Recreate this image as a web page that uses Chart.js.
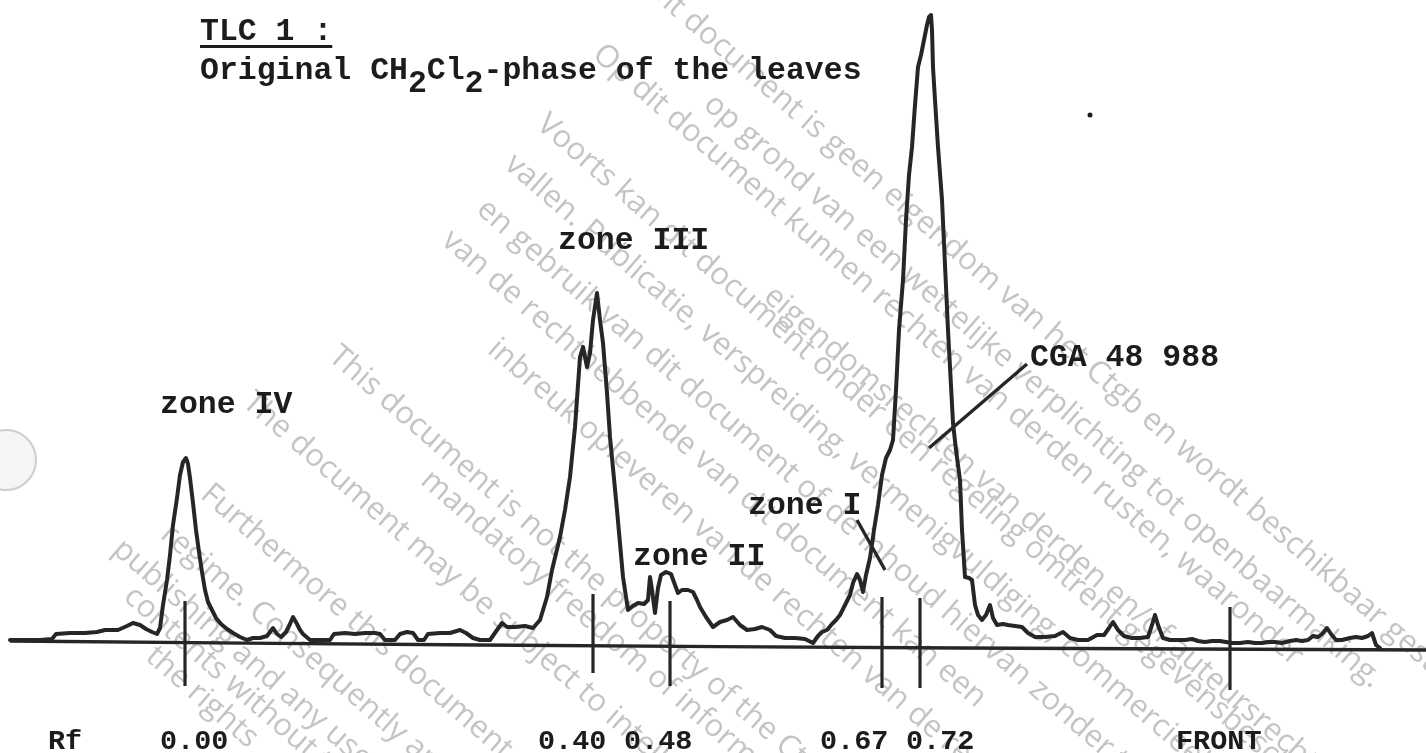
<!DOCTYPE html>
<html>
<head>
<meta charset="utf-8">
<script src="https://cdn.jsdelivr.net/npm/chart.js@4.4.1/dist/chart.umd.min.js"></script>
<style>
html,body{margin:0;padding:0;background:#fff;}
#wrap{position:relative;width:1426px;height:753px;overflow:hidden;}
canvas{display:block;}
</style>
</head>
<body>
<div id="wrap"><canvas id="c" width="1426" height="753"></canvas></div>
<script>
// ---- Densitometer scan (scan position along plate, signal height) ----
const scanPos = [10,25,40,52,56,70,85,97,105,118,127,133,140,146,152,157,160,163,167,170,173,177,180,183,186,188,190,193,196,199,202,205,208,212,216,221,227,233,240,247,253,260,267,273,277,281,286,290,293,297,300,303,310,320,330,334,345,355,365,375,380,385,395,400,407,413,418,424,428,440,450,460,466,473,480,490,497,502,507,515,525,533,540,547,552,560,565,570,575,580,583,587,590,593,597,600,603,607,610,617,623,628,633,638,644,648,650,652,655,658,661,666,671,675,678,682,688,693,697,700,706,713,720,727,733,740,747,755,762,770,776,785,795,805,813,818,822,827,832,836,840,845,850,853,857,860,863,866,870,874,878,882,886,890,893,896,899,903,906,909,912,915,918,921,924,927,929,931,932,933,935,938,942,945,948,953,956,960,962,965,969,972,975,978,982,986,990,993,997,1003,1008,1015,1022,1028,1035,1045,1055,1063,1070,1078,1088,1097,1104,1109,1113,1118,1124,1132,1140,1148,1152,1155,1158,1163,1170,1178,1185,1192,1198,1205,1212,1220,1226,1232,1240,1248,1255,1262,1268,1275,1282,1290,1296,1302,1308,1313,1318,1322,1327,1331,1336,1342,1350,1356,1362,1368,1372,1376,1380];
const signal = [10,10,10,11,16,17,17,18,20,20,24,27,25,21,18,16,22,45,70,95,125,152,175,188,192,186,172,147,120,98,78,60,48,40,32,26,21,17,13,10,12,12,14,22,16,13,18,26,33,26,20,16,10,10,10,16,17,16,17,17,16,10,10,16,18,17,10,10,16,17,17,20,17,12,10,10,20,27,23,23,24,22,30,53,80,113,140,173,223,293,303,283,297,330,357,330,307,257,213,140,73,40,44,47,46,50,73,60,37,62,75,78,76,65,57,60,60,58,50,43,33,23,28,30,33,25,20,21,23,20,14,12,12,11,7,14,18,20,26,30,35,45,55,67,76,70,58,75,92,120,145,175,192,200,210,260,320,370,430,475,503,545,583,595,610,625,633,635,620,583,550,503,450,385,320,227,200,170,120,73,72,70,45,35,30,35,45,32,25,26,25,24,23,17,13,13,14,18,12,10,10,15,15,22,28,20,14,12,12,13,25,35,25,12,10,10,10,11,9,8,9,9,8,7,7,8,7,7,8,8,7,9,10,9,10,14,13,16,22,16,10,10,12,13,12,14,17,5,2];

// ---- ruled baseline ----
const baselinePos = [10, 480, 960, 1426];
const baselineLevel = [9, 5, 2, 0];

// ---- Rf marks ----
const rfTickPos    = [185, 593, 670, 882, 920, 1230];
const rfTickTop    = [49, 56, 49, 53, 52, 43];
const rfTickBottom = [-36, -23, -36, -38, -38, -40];
const rfTickLabels = ['0.00', '0.40', '0.48', '0.67', '0.72', 'FRONT'];

// ---- zone annotations ----
const zoneNames = ['zone IV', 'zone III', 'zone II', 'zone I', 'CGA 48 988'];
const pointerFrom = [[857, 130], [929, 202]];
const pointerTo   = [[885, 80], [1027, 286]];

// ---- layout (pixels) ----
const MONO = '"Liberation Mono", "DejaVu Sans Mono", monospace';
const FS = 31.5;
const CW = FS * 0.6;
const FS_AX = 28.5;
const tickLabelX = [160, 538, 624, 820, 906, 1176];
const tickLabelY = 749;
const zoneLabelXY = [[160, 413], [558, 249], [633, 565], [748, 514], [1030, 366]];

const wmLines = [
  [650, -16, 'Dit document is geen eigendom van het Ctgb en wordt beschikbaar gesteld'],
  [708, 100, 'op grond van een wettelijke verplichting tot openbaarmaking.'],
  [597, 50, 'Op dit document kunnen rechten van derden rusten, waaronder'],
  [768, 292, 'eigendomsrechten van derden en/of auteursrechten.'],
  [541, 120, 'Voorts kan dit document onder een regeling omtrent gegevensbescherming'],
  [509, 160, 'vallen. Publicatie, verspreiding, vermenigvuldiging, commercieel'],
  [481, 205, 'en gebruik van dit document of de inhoud hiervan zonder toestemming'],
  [446, 236, 'van de rechthebbende van dit document kan een'],
  [492, 345, 'inbreuk opleveren van de rechten van de rechthebbende.'],
  [333, 352, 'This document is not the property of the Ctgb'],
  [425, 476, 'mandatory freedom of information regime.'],
  [247, 398, 'The document may be subject to intellectual property'],
  [205, 490, 'Furthermore this document may be subject to a data protection'],
  [165, 530, 'regime. Consequently any publication, distribution'],
  [117, 545, 'publishing and any use of the'],
  [128, 592, 'contents without the'],
  [150, 652, 'the rights']
];

const INK = '#262626';
const datasets = [];
datasets.push({
  data: scanPos.map((x, i) => ({x, y: signal[i]})),
  borderColor: INK, borderWidth: 4, pointRadius: 0, tension: 0,
  borderJoinStyle: 'round', borderCapStyle: 'round', fill: false
});
datasets.push({
  data: baselinePos.map((x, i) => ({x, y: baselineLevel[i]})),
  borderColor: INK, borderWidth: 3.4, pointRadius: 0, tension: 0.4, fill: false
});
rfTickPos.forEach((x, i) => {
  datasets.push({
    data: [{x, y: rfTickTop[i]}, {x, y: rfTickBottom[i]}],
    borderColor: INK, borderWidth: 3.2, pointRadius: 0, fill: false
  });
});
pointerFrom.forEach((p, i) => {
  datasets.push({
    data: [{x: p[0], y: p[1]}, {x: pointerTo[i][0], y: pointerTo[i][1]}],
    borderColor: INK, borderWidth: 3.4, pointRadius: 0, fill: false
  });
});

const paperPlugin = {
  id: 'paper',
  beforeDraw(chart) {
    const ctx = chart.ctx;
    ctx.save();
    ctx.fillStyle = '#fff';
    ctx.fillRect(0, 0, chart.width, chart.height);
    // punch hole
    ctx.beginPath();
    ctx.arc(6, 460, 30, 0, Math.PI * 2);
    ctx.fillStyle = '#f5f5f5';
    ctx.fill();
    ctx.strokeStyle = '#cdcdcd';
    ctx.lineWidth = 2;
    ctx.stroke();
    // watermark
    ctx.fillStyle = '#c4c4c4';
    ctx.font = '31px "Open Sans", "Noto Sans", sans-serif';
    ctx.textBaseline = 'middle';
    ctx.textAlign = 'left';
    const ang = 41 * Math.PI / 180;
    wmLines.forEach(([x, y, t]) => {
      ctx.save();
      ctx.translate(x, y);
      ctx.rotate(ang);
      ctx.fillText(t, 0, 0);
      ctx.restore();
    });
    ctx.restore();
  },
  afterDraw(chart) {
    const ctx = chart.ctx;
    const xs = chart.scales.x;
    ctx.save();
    ctx.fillStyle = '#1c1c1c';
    ctx.textBaseline = 'alphabetic';
    ctx.textAlign = 'left';
    ctx.font = 'bold ' + FS + 'px ' + MONO;
    // title
    ctx.fillText('TLC 1 :', 200, 40);
    ctx.fillRect(200, 45, CW * 7, 3);
    const x0 = 200, yb = 79;
    ctx.fillText('Original CH', x0, yb);
    ctx.fillText('2', x0 + CW * 11, yb + 13);
    ctx.fillText('Cl', x0 + CW * 12, yb);
    ctx.fillText('2', x0 + CW * 14, yb + 13);
    ctx.fillText('-phase of the leaves', x0 + CW * 15, yb);
    // zone labels
    zoneNames.forEach((n, i) => {
      ctx.fillText(n, zoneLabelXY[i][0], zoneLabelXY[i][1]);
    });
    // Rf axis labels
    ctx.font = 'bold ' + FS_AX + 'px ' + MONO;
    ctx.fillText('Rf', 48, tickLabelY);
    rfTickLabels.forEach((l, i) => {
      ctx.fillText(l, xs.getPixelForValue(tickLabelX[i]), tickLabelY);
    });
    // speck
    ctx.beginPath();
    ctx.arc(1090, 115, 2.5, 0, Math.PI * 2);
    ctx.fill();
    ctx.restore();
  }
};

new Chart(document.getElementById('c'), {
  type: 'line',
  data: { datasets },
  options: {
    responsive: false,
    animation: false,
    devicePixelRatio: 1,
    layout: { padding: 0 },
    plugins: { legend: { display: false }, tooltip: { enabled: false }, title: { display: false } },
    scales: {
      x: { type: 'linear', min: 0, max: 1426, display: false },
      y: { type: 'linear', min: -103, max: 650, display: false }
    }
  },
  plugins: [paperPlugin]
});
</script>
</body>
</html>
